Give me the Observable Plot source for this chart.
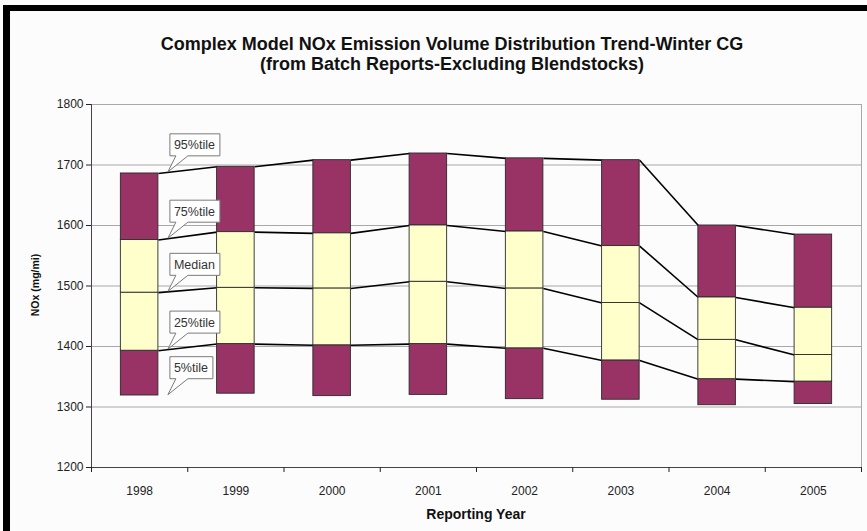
<!DOCTYPE html>
<html><head><meta charset="utf-8">
<script src="https://cdn.jsdelivr.net/npm/d3@7"></script>
<script src="https://cdn.jsdelivr.net/npm/@observablehq/plot@0.6"></script>
<style>
html,body{margin:0;padding:0;background:#fcfcfc;}
#wrap{position:relative;width:867px;height:531px;overflow:hidden;background:#fcfcfc;font-family:"Liberation Sans",Arial,sans-serif;}
#wrap svg{position:absolute;left:0;top:0;}
.frameTop{position:absolute;left:3px;top:5px;width:870px;height:6px;background:#000;}
.frameLeft{position:absolute;left:3px;top:5px;width:7px;height:540px;background:#000;}
.title{position:absolute;left:0;width:904px;text-align:center;font-weight:bold;font-size:18px;color:#111;line-height:20px;}
.ylab{position:absolute;left:35px;top:285px;transform:translate(-50%,-50%) rotate(-90deg);font-weight:bold;font-size:10.5px;color:#111;white-space:nowrap;}
.xlab{position:absolute;left:476px;top:514px;transform:translate(-50%,-50%);font-weight:bold;font-size:14px;color:#111;white-space:nowrap;}
</style></head><body>
<div id="wrap">
  <div class="frameTop"></div><div class="frameLeft"></div>
</div>
<script>
// ---- data ----
const years = ["1998","1999","2000","2001","2002","2003","2004","2005"];
const p5  = [1319, 1322, 1318, 1320, 1313, 1312, 1303, 1305];
const p25 = [1393, 1404, 1402, 1404, 1397, 1377, 1346, 1342];
const p50 = [1489, 1497, 1496, 1507, 1496, 1472, 1411, 1386];
const p75 = [1576, 1589, 1587, 1600, 1590, 1566, 1481, 1464];
const p95 = [1686, 1697, 1708, 1719, 1711, 1708, 1600, 1585];
const yTicks = [1200, 1300, 1400, 1500, 1600, 1700, 1800];
const calloutLabels = ["95%tile", "75%tile", "Median", "25%tile", "5%tile"];
const calloutSeries = [p95, p75, p50, p25, p5];
const titleLines = ["Complex Model NOx Emission Volume Distribution Trend-Winter CG", "(from Batch Reports-Excluding Blendstocks)"];
const yTitle = "NOx  (mg/mi)";
const xTitle = "Reporting Year";

// ---- derived tables ----
const hw = 0.195;
const idx = years.map((_, i) => i);
const bounds = years.map((_, i) => i - 0.5).concat([years.length - 0.5]);
const dark = [], light = [];
idx.forEach(i => {
  dark.push({i, lo: p5[i], hi: p25[i]});
  light.push({i, lo: p25[i], hi: p50[i]});
  light.push({i, lo: p50[i], hi: p75[i]});
  dark.push({i, lo: p75[i], hi: p95[i]});
});
const links = [];
[p25, p50, p75, p95].forEach(s => {
  for (let i = 0; i < s.length - 1; i++) links.push({x1: i + hw, x2: i + 1 - hw, y1: s[i], y2: s[i + 1]});
});

const canvas = document.createElement("canvas").getContext("2d");
canvas.font = "12.5px 'Liberation Sans', Arial";

function callouts(index, scales) {
  const g = d3.create("svg:g");
  const sx = scales.x, sy = scales.y;
  const xr = sx(hw), xn = sx(1 - hw);
  const tipX = xr + 10;
  const t = (tipX - xr) / (xn - xr);
  calloutLabels.forEach((label, k) => {
    const s = calloutSeries[k];
    const ty = sy(s[0] + (s[1] - s[0]) * t);
    const w = Math.round(canvas.measureText(label).width) + 9;
    const h = 22;
    const left = tipX + 2, bottom = ty - 16, top = bottom - h, right = left + w;
    g.append("path")
      .attr("d", `M${left},${top}H${right}V${bottom}H${left + 18}L${tipX},${ty}L${left + 6},${bottom}H${left}Z`)
      .attr("fill", "#ffffff").attr("stroke", "#7a7a7a").attr("stroke-width", 1);
    g.append("text").attr("x", left + 4).attr("y", bottom - 6.5)
      .attr("text-anchor", "start")
      .attr("font-size", 12.5).attr("fill", "#333").text(label);
  });
  return g.node();
}

const chart = Plot.plot({
  width: 867, height: 531,
  marginTop: 104, marginBottom: 64, marginLeft: 91, marginRight: 6,
  style: {background: "transparent", fontFamily: "'Liberation Sans', Arial, sans-serif", color: "#222"},
  x: {type: "linear", domain: [-0.5, years.length - 0.5], axis: null},
  y: {domain: [1200, 1800], axis: null},
  marks: [
    Plot.ruleY(yTicks.slice(1), {stroke: "#a8a8a8", strokeWidth: 1}),
    Plot.ruleX([years.length - 0.5], {stroke: "#a8a8a8"}),
    Plot.link(links, {x1: "x1", x2: "x2", y1: "y1", y2: "y2", stroke: "#000", strokeWidth: 1.6}),
    Plot.rectY(dark, {x1: d => d.i - hw, x2: d => d.i + hw, y1: "lo", y2: "hi", fill: "#993366", stroke: "#2a2a2a", strokeWidth: 0.9}),
    Plot.rectY(light, {x1: d => d.i - hw, x2: d => d.i + hw, y1: "lo", y2: "hi", fill: "#ffffcc", stroke: "#2a2a2a", strokeWidth: 0.9}),
    Plot.ruleX([-0.5], {stroke: "#444"}),
    Plot.ruleY([1200], {stroke: "#444"}),
    Plot.axisY({ticks: yTicks, tickSize: 5, tickPadding: 3, fontSize: 12, label: null, tickFormat: d => String(d)}),
    Plot.axisX({ticks: bounds, tickSize: 5, tickFormat: () => "", label: null}),
    Plot.axisX({ticks: idx, tickSize: 0, tickPadding: 19, fontSize: 12, label: null, tickFormat: i => years[i]}),
    callouts
  ]
});

const wrap = document.getElementById("wrap");
wrap.appendChild(chart);
titleLines.forEach((txt, k) => {
  const d = document.createElement("div");
  d.className = "title"; d.style.top = (34 + k * 20) + "px"; d.textContent = txt;
  wrap.appendChild(d);
});
const yl = document.createElement("div"); yl.className = "ylab"; yl.textContent = yTitle; wrap.appendChild(yl);
const xl = document.createElement("div"); xl.className = "xlab"; xl.textContent = xTitle; wrap.appendChild(xl);
</script>
</body></html>
